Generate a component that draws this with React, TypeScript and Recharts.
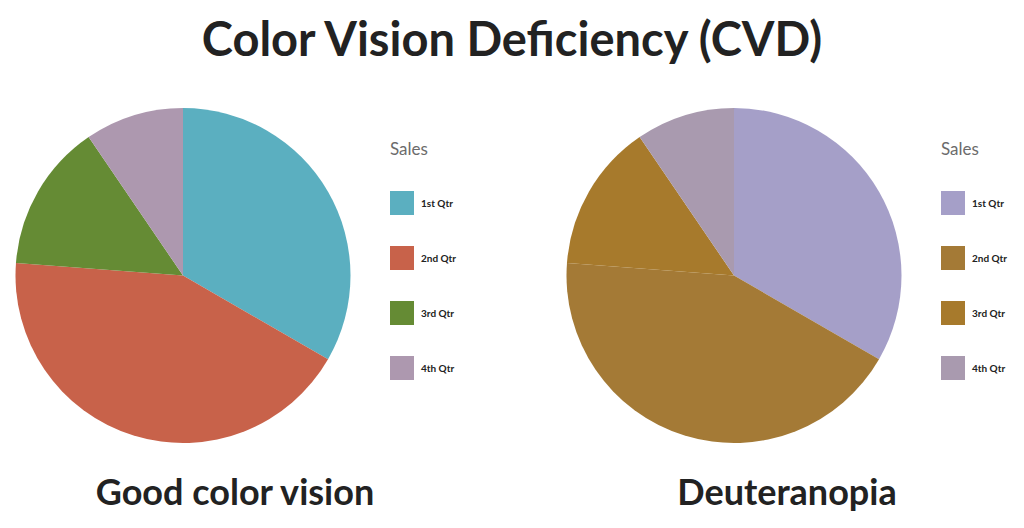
import React from "react";
import { PieChart, Pie, Cell, Legend } from "recharts";

// ── Data ─────────────────────────────────────────────────────────────────────

const QUARTERS = ["1st Qtr", "2nd Qtr", "3rd Qtr", "4th Qtr"];
const SALES = [35, 45, 15, 10];

const NORMAL_COLORS = ["#5BAFC0", "#C8624A", "#658B34", "#AD98AF"];
const DEUTAN_COLORS = ["#A59FC8", "#A47A36", "#A77A2C", "#A99AAF"];

const TITLE = "Color Vision Deficiency (CVD)";
const PANEL_TITLES = ["Good color vision", "Deuteranopia"];

const FONT = "Lato, 'Open Sans', sans-serif";

const data = QUARTERS.map((name, i) => ({ name, value: SALES[i] }));

// ── Legend ───────────────────────────────────────────────────────────────────

const SalesLegend = ({ colors }: { colors: string[] }) => (
  <div style={{ fontFamily: FONT, position: "relative", width: 100, height: 260 }}>
    <div style={{ position: "absolute", left: 0, top: 2, fontSize: 17, color: "#6b6b6b", lineHeight: "20px" }}>
      Sales
    </div>
    {QUARTERS.map((q, i) => (
      <div key={q} style={{ position: "absolute", left: 0, top: 54 + i * 55, height: 24, display: "flex", alignItems: "center" }}>
        <div style={{ width: 24, height: 24, background: colors[i] }} />
        <span style={{ marginLeft: 7, fontSize: 10, fontWeight: 700, color: "#222" }}>{q}</span>
      </div>
    ))}
  </div>
);

function SalesPie({ colors, left }: { colors: string[]; left: number }) {
  return (
    <div style={{ position: "absolute", left, top: 0 }}>
      <PieChart width={480} height={528} margin={{ top: 0, right: 0, bottom: 0, left: 0 }}>
        <Pie
          data={data}
          dataKey="value"
          nameKey="name"
          cx={183}
          cy={275.5}
          outerRadius={167.5}
          startAngle={90}
          endAngle={-270}
          stroke="none"
          isAnimationActive={false}
        >
          {data.map((_, i) => (
            <Cell key={i} fill={colors[i]} />
          ))}
        </Pie>
        <Legend
          content={() => <SalesLegend colors={colors} />}
          wrapperStyle={{ position: "absolute", left: 390, top: 137, width: 100 }}
        />
      </PieChart>
    </div>
  );
}

export default function App() {
  return (
    <div style={{ position: "absolute", left: 0, top: 0, width: 1024, height: 528, background: "#fff", fontFamily: FONT }}>
      <div
        style={{
          position: "absolute",
          left: 0,
          top: 15,
          width: 1024,
          textAlign: "center",
          fontSize: 47,
          lineHeight: "47px",
          fontWeight: 700,
          color: "#222",
        }}
      >
        {TITLE}
      </div>
      <SalesPie colors={NORMAL_COLORS} left={0} />
      <SalesPie colors={DEUTAN_COLORS} left={551} />
      {PANEL_TITLES.map((t, i) => (
        <div
          key={t}
          style={{
            position: "absolute",
            left: i === 0 ? 235 - 200 : 787 - 200,
            top: 473,
            width: 400,
            textAlign: "center",
            fontSize: 36,
            lineHeight: "36px",
            fontWeight: 700,
            color: "#222",
          }}
        >
          {t}
        </div>
      ))}
    </div>
  );
}
